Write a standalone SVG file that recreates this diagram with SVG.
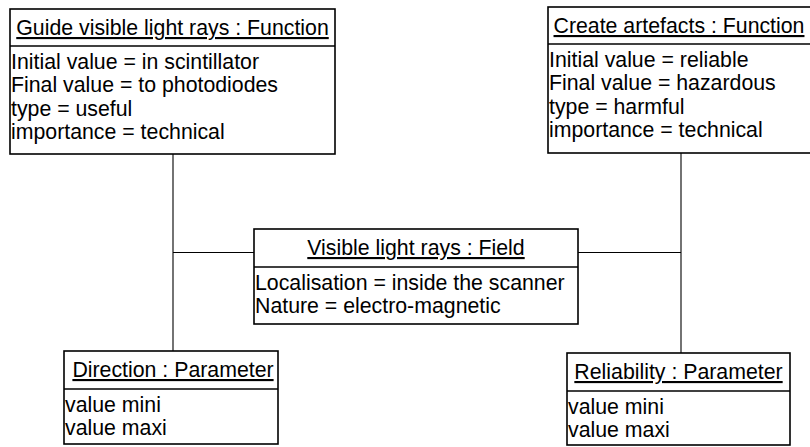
<svg xmlns="http://www.w3.org/2000/svg" width="810" height="447" viewBox="0 0 810 447">
<style>
.box{fill:#fff;stroke:#000;stroke-width:1.6}
.sep{stroke:#000;stroke-width:1.6}
.conn{stroke:#000;stroke-width:1.1;fill:none}
text{font-family:"Liberation Sans",Arial,sans-serif;font-size:21.3px;fill:#000}
.hd{text-anchor:middle;text-decoration:underline}
</style>
<rect width="810" height="447" fill="#fff"/>
<g id="connectors">
<line class="conn" x1="173" y1="154" x2="173" y2="351"/>
<line class="conn" x1="173" y1="252.5" x2="254" y2="252.5"/>
<line class="conn" x1="681" y1="153" x2="681" y2="353"/>
<line class="conn" x1="578" y1="252.5" x2="681" y2="252.5"/>
</g>
<g id="guide">
<rect class="box" x="10" y="9" width="325" height="145"/>
<line class="sep" x1="10" y1="46" x2="335" y2="46"/>
<text class="hd" x="172.5" y="35">Guide visible light rays : Function</text>
<text x="11" y="69">Initial value = in scintillator</text>
<text x="11" y="92.3">Final value = to photodiodes</text>
<text x="11" y="115.6">type = useful</text>
<text x="11" y="138.9">importance = technical</text>
</g>
<g id="create">
<rect class="box" x="548" y="7" width="263" height="146"/>
<line class="sep" x1="548" y1="44" x2="811" y2="44"/>
<text class="hd" x="679" y="33">Create artefacts : Function</text>
<text x="549" y="67">Initial value = reliable</text>
<text x="549" y="90.3">Final value = hazardous</text>
<text x="549" y="113.6">type = harmful</text>
<text x="549" y="136.9">importance = technical</text>
</g>
<g id="field">
<rect class="box" x="254" y="229" width="324" height="95"/>
<line class="sep" x1="254" y1="267" x2="578" y2="267"/>
<text class="hd" x="416" y="255">Visible light rays : Field</text>
<text x="255" y="289.5">Localisation = inside the scanner</text>
<text x="255" y="312.8">Nature = electro-magnetic</text>
</g>
<g id="direction">
<rect class="box" x="64" y="351" width="214" height="93"/>
<line class="sep" x1="64" y1="389" x2="278" y2="389"/>
<text class="hd" x="173" y="377">Direction : Parameter</text>
<text x="65" y="412">value mini</text>
<text x="65" y="435.3">value maxi</text>
</g>
<g id="reliability">
<rect class="box" x="567" y="353" width="223" height="92"/>
<line class="sep" x1="567" y1="391" x2="790" y2="391"/>
<text class="hd" x="678.5" y="379">Reliability : Parameter</text>
<text x="568" y="414">value mini</text>
<text x="568" y="437.3">value maxi</text>
</g>
</svg>
